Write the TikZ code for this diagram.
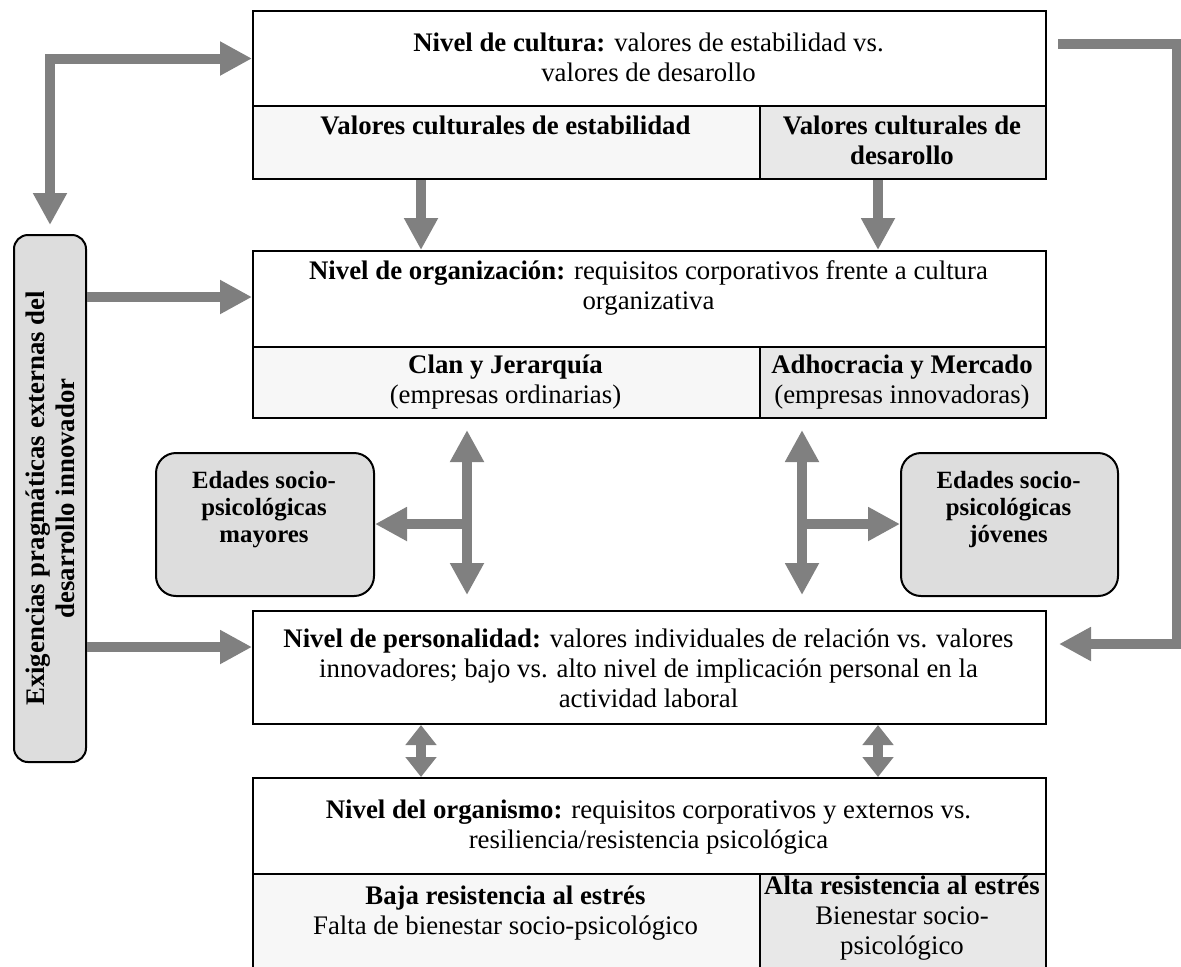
\documentclass[tikz,border=0pt]{standalone}
\usepackage{fontspec}
\setmainfont{Liberation Serif}
\usetikzlibrary{arrows.meta,calc}
\definecolor{arrowgray}{HTML}{808080}
\definecolor{sidefill}{HTML}{DDDDDD}
\definecolor{lightcell}{HTML}{F7F7F7}
\definecolor{darkcell}{HTML}{E8E8E8}
\tikzset{
  box/.style={draw=black, line width=1pt, inner sep=0pt, anchor=north west},
  roundbox/.style={box, fill=sidefill, rounded corners=10pt},
  txt/.style={font=\fontsize{13.4}{15}\selectfont, align=center, inner sep=0pt},
  btxt/.style={txt, font=\fontsize{13.4}{15}\selectfont\bfseries},
  rtxt/.style={txt, font=\fontsize{12.4}{13.5}\selectfont\bfseries},
  bigarrow/.style={draw=arrowgray, line width=5pt, line join=miter,
    -{Triangle[length=16pt,width=16pt]}},
  dblarrow/.style={draw=arrowgray, line width=5pt, line join=miter,
    {Triangle[length=16pt,width=16pt]}-{Triangle[length=16pt,width=16pt]}},
  smalldbl/.style={draw=arrowgray, line width=5pt,
    {Triangle[length=10pt,width=15pt]}-{Triangle[length=10pt,width=15pt]}},
}
\begin{document}
\begin{tikzpicture}[x=0.5pt,y=-0.5pt]
\clip (0,0) rectangle (1181,966);
\fill[white] (0,0) rectangle (1181,966);

% Culture level
\node[box, minimum width=396.5pt, minimum height=47.5pt] (cultH) at (252,10) {};
\node[txt] (cultHt) at (648.5,57.5) {\textbf{Nivel de cultura:} valores de estabilidad vs.\\valores de desarollo};
\node[box, fill=lightcell, minimum width=253.5pt, minimum height=36.5pt] (cultL) at (252,105) {};
\node[box, fill=darkcell, minimum width=143pt, minimum height=36.5pt] (cultR) at (759,105) {};
\node[btxt] (cultLt) at (505.5,125) {Valores culturales de estabilidad};
\node[btxt] (cultRt) at (902,140.5) {Valores culturales de\\desarollo};

% Organization level
\node[box, minimum width=396.5pt, minimum height=48pt] (orgH) at (252,250) {};
\node[txt] (orgHt) at (648.5,288) {\textbf{Nivel de organización:} requisitos corporativos frente a cultura\\organizativa};
\node[box, fill=lightcell, minimum width=253.5pt, minimum height=35.5pt] (orgL) at (252,346) {};
\node[box, fill=darkcell, minimum width=143pt, minimum height=35.5pt] (orgR) at (759,346) {};
\node[txt] (orgLt) at (505.5,382) {\textbf{Clan y Jerarquía}\\(empresas ordinarias)};
\node[txt] (orgRt) at (902,382) {\textbf{Adhocracia y Mercado}\\(empresas innovadoras)};

% Personality level
\node[box, minimum width=396.5pt, minimum height=56.5pt] (pers) at (252,610) {};
\node[txt] (perst) at (648.5,668) {\textbf{Nivel de personalidad:} valores individuales de relación vs. valores\\innovadores; bajo vs. alto nivel de implicación personal en la\\actividad laboral};

% Organism level
\node[box, minimum width=396.5pt, minimum height=48pt] (orgaH) at (252,777) {};
\node[txt] (orgaHt) at (648.5,827) {\textbf{Nivel del organismo:} requisitos corporativos y externos vs.\\resiliencia/resistencia psicológica};
\node[box, fill=lightcell, minimum width=253.5pt, minimum height=60pt] (orgaL) at (252,873) {};
\node[box, fill=darkcell, minimum width=143pt, minimum height=60pt] (orgaR) at (759,873) {};
\node[txt] (orgaLt) at (505.5,913) {\textbf{Baja resistencia al estrés}\\Falta de bienestar socio-psicológico};
\node[txt] (orgaRt) at (902,918) {\textbf{Alta resistencia al estrés}\\Bienestar socio-\\psicológico};

% Side box
\node[box, fill=sidefill, rounded corners=7pt, minimum width=36pt, minimum height=263.5pt] (side) at (13,234) {};
\node[btxt, rotate=90] (sidet) at (side.center) {Exigencias pragmáticas externas del\\desarrollo innovador};

% Age boxes
\node[roundbox, minimum width=109pt, minimum height=71.5pt] (oldB) at (155,452) {};
\node[rtxt] (oldBt) at (264,510) {Edades socio-\\psicológicas\\mayores};
\node[roundbox, minimum width=108.5pt, minimum height=71.5pt] (youngB) at (900,452) {};
\node[rtxt] (youngBt) at (1008.5,510) {Edades socio-\\psicológicas\\jóvenes};

% Arrows
\draw[dblarrow] ($(side.north)+(0,-9)$) |- (cultH.west);
\coordinate (rcorner) at (1177,644);
\draw[bigarrow] ($(cultH.east |- 0,44)+(11,0)$) -| (rcorner) -- ($(pers.east |- 0,644)+(12,0)$);

\draw[bigarrow] (cultL.south -| 421,0) -- (orgH.north -| 421,0);
\draw[bigarrow] (cultR.south -| 878,0) -- (orgH.north -| 878,0);

\draw[bigarrow] (side.east |- 0,297) -- (orgH.west |- 0,297);
\draw[bigarrow] (side.east |- 0,647) -- (pers.west |- 0,647);

\draw[dblarrow] ($(orgL.south -| 467,0)+(0,11)$) -- ($(pers.north -| 467,0)+(0,-15)$);
\coordinate (jL) at (467,524);
\draw[bigarrow] (jL) -- (oldB.east |- jL);
\draw[dblarrow] ($(orgR.south -| 802,0)+(0,11)$) -- ($(pers.north -| 802,0)+(0,-15)$);
\coordinate (jR) at (802,524);
\draw[bigarrow] (jR) -- (youngB.west |- jR);

\draw[smalldbl] (pers.south -| 421,0) -- (orgaH.north -| 421,0);
\draw[smalldbl] (pers.south -| 878,0) -- (orgaH.north -| 878,0);
\end{tikzpicture}
\end{document}
